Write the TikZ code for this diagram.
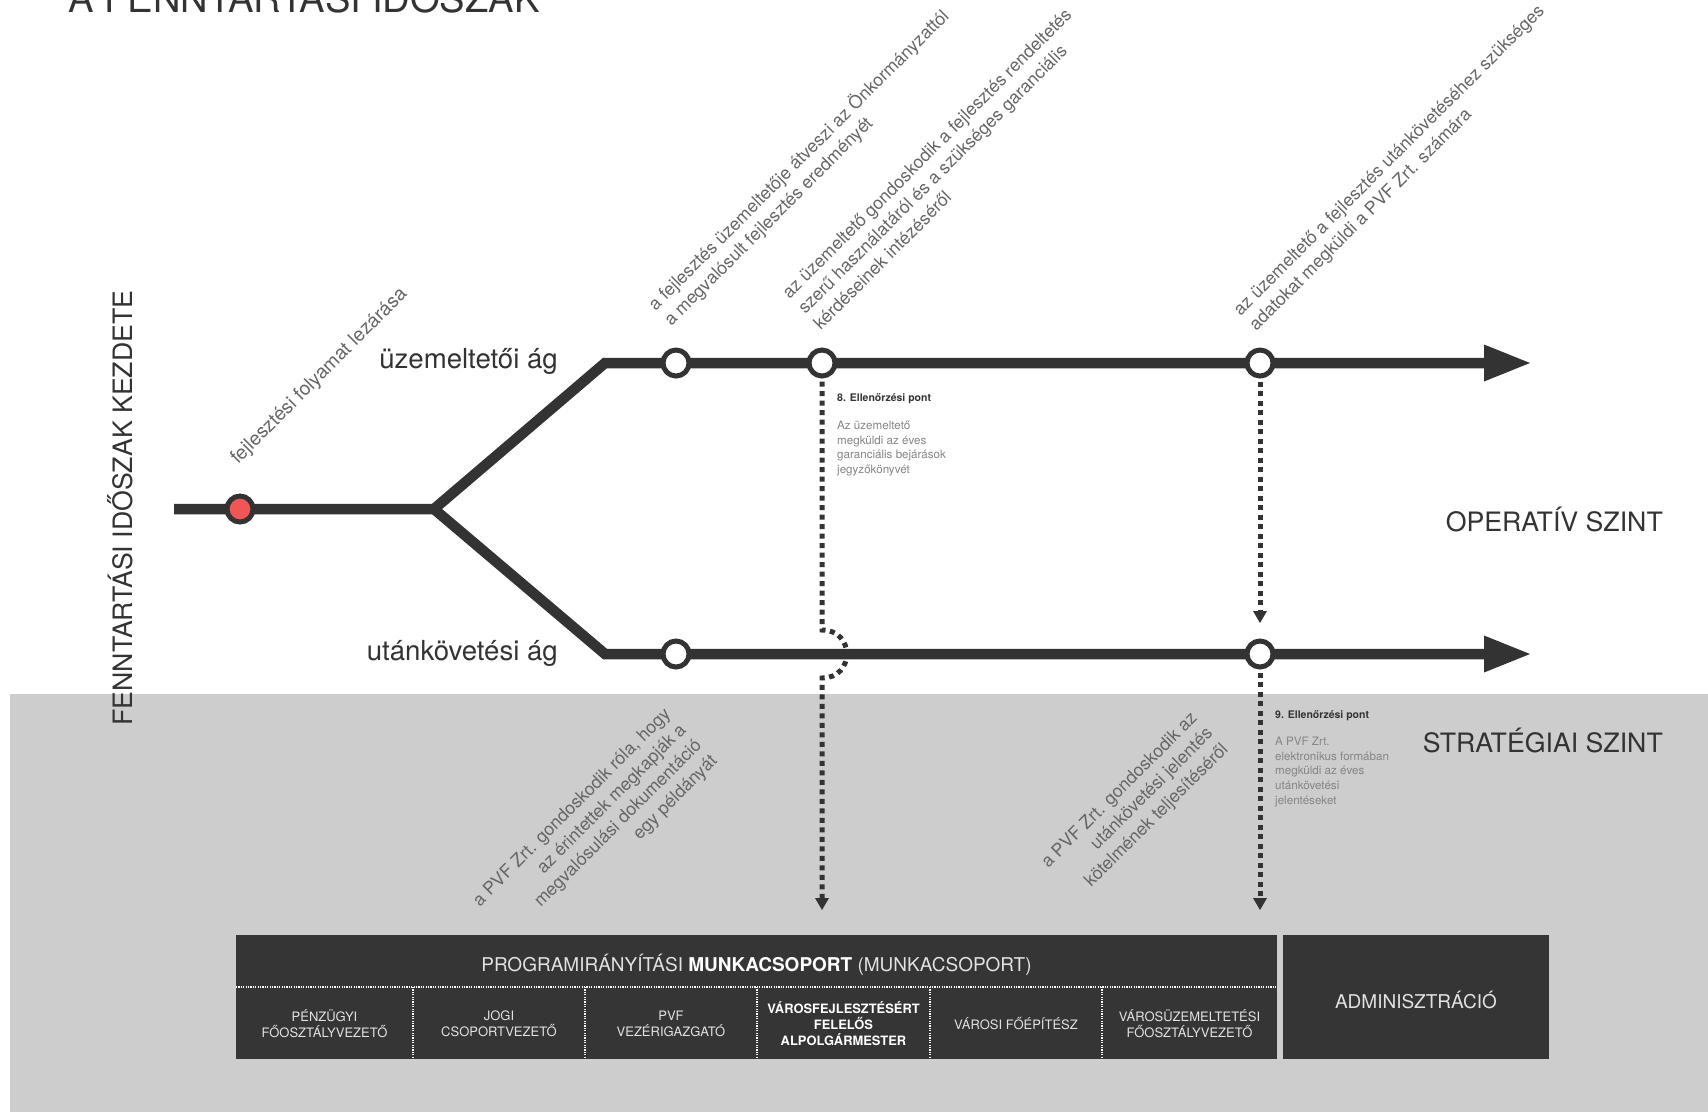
\documentclass[tikz,border=0pt]{standalone}
\usepackage{fontspec}
\setmainfont{TeX Gyre Heros}
\usetikzlibrary{arrows.meta}
\definecolor{ink}{HTML}{333333}
\definecolor{bggray}{HTML}{CDCDCD}
\definecolor{boxdark}{HTML}{353535}
\definecolor{redpt}{HTML}{EF5757}
\definecolor{txtgray}{HTML}{666666}
\definecolor{smallgray}{HTML}{858585}
\definecolor{boxtxt}{HTML}{E2E2E2}
\begin{document}
\begin{tikzpicture}[x=1pt,y=-1pt,
  track/.style={line width=10.5pt, draw=ink, line join=miter,
    -{Triangle[length=46pt,width=37pt,line width=0pt]}},
  station/.style={circle, draw=ink, line width=5pt, fill=white, minimum size=26pt, inner sep=0pt},
  startpt/.style={station, fill=redpt},
  dotarrow/.style={draw=ink, line width=5pt, dash pattern=on 5pt off 4.5pt,
    -{Triangle[length=12pt,width=14pt,line width=0pt]}},
  rlabel/.style={rotate=45, inner sep=0pt, text=txtgray, font=\fontsize{17.8}{22}\selectfont},
  branchlabel/.style={inner sep=0pt, text=ink, font=\fontsize{27.6}{31}\selectfont},
  levellabel/.style={inner sep=0pt, text=ink, font=\fontsize{26.7}{30}\selectfont},
  cptitle/.style={inner sep=0pt, text=ink, font=\bfseries\fontsize{10.5}{12}\selectfont},
  cpbody/.style={inner sep=0pt, text=smallgray, align=left, font=\fontsize{11.6}{14.6}\selectfont},
  darkbox/.style={fill=boxdark, draw=none, inner sep=0pt, anchor=north west},
  sepline/.style={draw=white, line width=1.2pt, dash pattern=on 1.2pt off 1.2pt},
  colhead/.style={inner sep=0pt, text=boxtxt, align=center, font=\fontsize{13}{16}\selectfont},
]
\useasboundingbox (0,0) rectangle (1708,1112);
\clip (0,0) rectangle (1708,1112);
\fill[white] (0,0) rectangle (1708,1112);
\fill[bggray] (10,694) rectangle (1708,1112);

% clipped title
\node[anchor=base west, inner sep=0pt, text=ink, font=\fontsize{38.2}{41}\selectfont] (title) at (68,12) {A FENNTARTÁSI IDŐSZAK};

% track coordinates
\coordinate (s) at (174,509);
\coordinate (f) at (434,509);
\coordinate (ub) at (605,363);
\coordinate (lb) at (605,654);
\coordinate (ue) at (1530,363);
\coordinate (le) at (1530,654);

% stations (positions)
\path (240,509) coordinate (p0) (676,363) coordinate (p1u) (822,363) coordinate (p8u)
      (1260,363) coordinate (p9u) (676,654) coordinate (p1l) (1260,654) coordinate (p9l);

% dotted connectors (drawn first)
\coordinate (b8a) at (822,630);
\coordinate (b8b) at (822,678);
\coordinate (a8) at (822,910);
\coordinate (a9u) at (1260,623);
\coordinate (a9l) at (1260,910);
\draw[dotarrow] (822,372) -- (b8a) .. controls (855,630) and (855,678) .. (b8b) -- (a8);
\draw[dotarrow] (1260,372) -- (a9u);
\draw[dotarrow] (1260,663) -- (a9l);

% track
\draw[track] (s) -- (f) -- (ub) -- (ue);
\draw[track] (f) -- (lb) -- (le);

\node[startpt] (c0) at (p0) {};
\node[station] (c1u) at (p1u) {};
\node[station] (c8u) at (p8u) {};
\node[station] (c9u) at (p9u) {};
\node[station] (c1l) at (p1l) {};
\node[station] (c9l) at (p9l) {};

% branch and level labels
\node[branchlabel, anchor=base east] (lu) at (558,368) {üzemeltetői ág};
\node[branchlabel, anchor=base east] (ll) at (558,660) {utánkövetési ág};
\node[levellabel, anchor=base east] (op) at (1663,531) {OPERATÍV SZINT};
\node[levellabel, anchor=base east] (st) at (1663,752) {STRATÉGIAI SZINT};
\node[levellabel, rotate=90, anchor=base] (kezd) at (132,508) {FENNTARTÁSI IDŐSZAK KEZDETE};

% rotated labels
\node[rlabel, anchor=south west, align=left, font=\fontsize{19.3}{22}\selectfont] (t1) at (241,468) {fejlesztési folyamat lezárása};
\node[rlabel, anchor=south west, align=left] (t2) at (674,330) {a fejlesztés üzemeltetője átveszi az Önkormányzattól\\a megvalósult fejlesztés eredményét};
\node[rlabel, anchor=south west, align=left] (t3) at (821,331) {az üzemeltető gondoskodik a fejlesztés rendeltetés\\szerű használatáról és a szükséges garanciális\\kérdéseinek intézéséről};
\node[rlabel, anchor=south west, align=left] (t4) at (1259,335) {az üzemeltető a fejlesztés utánkövetéséhez szükséges\\adatokat megküldi a PVF Zrt. számára};
\node[rlabel, anchor=south east, align=right] (t5) at (721,765) {a PVF Zrt. gondoskodik róla, hogy\\az érintettek megkapják a\\megvalósulási dokumentáció\\egy példányát};
\node[rlabel, anchor=south east, align=right] (t6) at (1232,753) {a PVF Zrt. gondoskodik az\\utánkövetési jelentés\\kötelmének teljesítéséről};

% checkpoints
\node[cptitle, anchor=base west] (cp8t) at (837,401) {8. Ellenőrzési pont};
\node[cpbody, anchor=north west] (cp8b) at (837,421) {Az üzemeltető\\megküldi az éves\\garanciális bejárások\\jegyzőkönyvét};
\node[cptitle, anchor=base west] (cp9t) at (1275,718) {9. Ellenőrzési pont};
\node[cpbody, anchor=north west] (cp9b) at (1275,737) {A PVF Zrt.\\elektronikus formában\\megküldi az éves\\utánkövetési\\jelentéseket};

% bottom boxes
\node[darkbox, minimum width=1041pt, minimum height=124pt] (pm) at (236,935) {};
\node[darkbox, minimum width=266pt, minimum height=124pt] (adm) at (1283,935) {};
\node[inner sep=0pt, text=boxtxt, font=\fontsize{19}{22}\selectfont] (admt) at (1416,1000) {ADMINISZTRÁCIÓ};
\node[inner sep=0pt, anchor=base, text=boxtxt, font=\fontsize{19}{22}\selectfont] (pmt) at (756.5,971)
  {PROGRAMIRÁNYÍTÁSI \textcolor{white}{\bfseries MUNKACSOPORT} (MUNKACSOPORT)};
\draw[sepline] (236,987) -- (1277,987);
\foreach \xx in {413,585,757,930,1102} \draw[sepline] (\xx,987) -- (\xx,1059);
\node[colhead] (k1) at (324.5,1024) {PÉNZÜGYI\\FŐOSZTÁLYVEZETŐ};
\node[colhead] (k2) at (499,1024) {JOGI\\CSOPORTVEZETŐ};
\node[colhead] (k3) at (671,1024) {PVF\\VEZÉRIGAZGATÓ};
\node[colhead, text=white, font=\bfseries\fontsize{12.9}{16}\selectfont] (k4) at (843.5,1024) {VÁROSFEJLESZTÉSÉRT\\FELELŐS\\ALPOLGÁRMESTER};
\node[colhead] (k5) at (1016,1024) {VÁROSI FŐÉPÍTÉSZ};
\node[colhead] (k6) at (1189.5,1024) {VÁROSÜZEMELTETÉSI\\FŐOSZTÁLYVEZETŐ};
\end{tikzpicture}
\end{document}
